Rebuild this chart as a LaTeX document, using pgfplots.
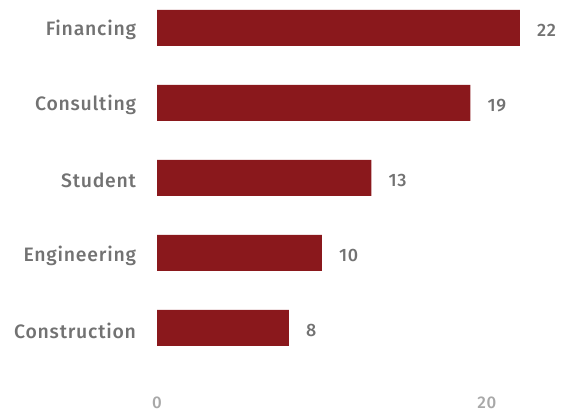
\documentclass[border=0pt]{standalone}
\usepackage{fontspec}
\IfFontExistsTF{Fira Sans Medium}{\setmainfont{Fira Sans Medium}[LetterSpace=4.0]}{\setmainfont{Fira Sans}[LetterSpace=4.0]}
\usepackage{pgfplots}
\pgfplotsset{compat=1.18}
\definecolor{barred}{HTML}{8A181C}
\definecolor{labgray}{HTML}{727272}
\definecolor{tickgray}{HTML}{A8A8A8}
\begin{document}
\begin{tikzpicture}
\path[use as bounding box] (0,0) rectangle (564bp,417bp);
\begin{axis}[
  at={(157bp,44bp)}, anchor=south west,
  scale only axis, width=407bp, height=373bp,
  xbar, bar width=0.48,
  xmin=0, xmax=24.67, ymin=-0.6, ymax=4.37,
  axis line style={draw=none}, tick style={draw=none},
  xtick={0,20}, ytick={0,1,2,3,4},
  yticklabels={Construction,Engineering,Student,Consulting,Financing},
  yticklabel style={font=\fontsize{19.5}{21}\selectfont, text=labgray, inner sep=0pt, xshift=-16.5bp, yshift=-2.5bp},
  xticklabel style={font=\fontsize{17}{19}\selectfont, text=tickgray, inner sep=0pt, anchor=center, yshift=-30bp},
  /pgf/number format/assume math mode=true,
  nodes near coords,
  nodes near coords style={font=\fontsize{18}{20}\selectfont, text=labgray, anchor=west, inner sep=0pt, xshift=17bp, yshift=-2.5bp},
  clip=false,
]
\addplot[fill=barred, draw=none] coordinates {(8,0) (10,1) (13,2) (19,3) (22,4)};
\end{axis}
\end{tikzpicture}
\end{document}
